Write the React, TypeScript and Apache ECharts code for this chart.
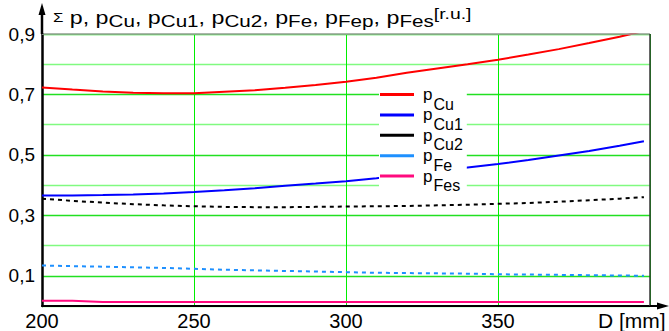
import React, { useEffect, useRef } from 'react';
import * as echarts from 'echarts';

// Rotor diameter D [mm]
const D = [200, 210, 220, 230, 240, 250, 260, 270, 280, 290, 300, 310, 320, 330, 340, 350, 360, 370, 380, 390, 398];
const pCu = [0.723, 0.716, 0.71, 0.706, 0.704, 0.704, 0.709, 0.714, 0.722, 0.731, 0.742, 0.755, 0.772, 0.786, 0.8, 0.815, 0.832, 0.85, 0.87, 0.891, 0.91];
const pCu1 = [0.366, 0.366, 0.367, 0.369, 0.372, 0.377, 0.383, 0.39, 0.398, 0.405, 0.413, 0.423, 0.434, 0.446, 0.458, 0.47, 0.483, 0.498, 0.513, 0.53, 0.545];
const pCu2 = [0.355, 0.348, 0.342, 0.337, 0.333, 0.33, 0.328, 0.327, 0.327, 0.328, 0.329, 0.33, 0.331, 0.333, 0.335, 0.338, 0.341, 0.345, 0.35, 0.355, 0.36];
const pFe = [0.134, 0.132, 0.13, 0.128, 0.126, 0.123, 0.12, 0.118, 0.116, 0.114, 0.112, 0.11, 0.109, 0.108, 0.107, 0.105, 0.104, 0.103, 0.102, 0.101, 0.1];
const pFes = [0.017, 0.017, 0.013, 0.013, 0.013, 0.013, 0.013, 0.013, 0.013, 0.013, 0.013, 0.013, 0.013, 0.013, 0.013, 0.013, 0.013, 0.013, 0.013, 0.013, 0.013];

const xTickLabels = ['200', '250', '300', '350'];
const yTickLabels = ['0,1', '0,3', '0,5', '0,7', '0,9'];

const seriesNames = ['pCu', 'pCu1', 'pCu2', 'pFe', 'pFes'];
const seriesSubs = ['Cu', 'Cu1', 'Cu2', 'Fe', 'Fes'];
const seriesColors = ['#ff0000', '#0000ff', '#000000', '#1e90ff', '#ff0a7e'];
const seriesDashed = [false, false, true, true, false];
const seriesValues = [pCu, pCu1, pCu2, pFe, pFes];

const titleSubs = ['Cu', 'Cu1', 'Cu2', 'Fe', 'Fep', 'Fes'];
const titleUnit = '[r.u.]';

const FONT = 'Liberation Sans, Arial, sans-serif';

export default function App() {
  const ref = useRef<HTMLDivElement>(null);
  useEffect(() => {
    if (!ref.current) return;
    const chart = echarts.init(ref.current, null, { renderer: 'svg' });
    const option: any = {
      animation: false,
      backgroundColor: '#ffffff',
      textStyle: { fontFamily: FONT },
      legend: {
        orient: 'vertical',
        left: 379,
        top: 86,
        padding: [0, 4, 4, 1],
        backgroundColor: '#ffffff',
        itemGap: -5.6,
        itemWidth: 34,
        itemHeight: 3,
        icon: 'rect',
        data: seriesNames,
        formatter: (name: string) => {
          const i = seriesNames.indexOf(name);
          return '{p|p}{s|' + seriesSubs[i] + '}';
        },
        textStyle: {
          color: '#000',
          fontFamily: FONT,
          rich: {
            p: { fontSize: 17, lineHeight: 17, verticalAlign: 'top', padding: [0, 1, 0, 4], color: '#000', fontFamily: FONT },
            s: { fontSize: 16, lineHeight: 16, padding: [10, 0, 0, 0], verticalAlign: 'top', color: '#000', fontFamily: FONT },
          },
        },
      },
      grid: { left: 42, right: 19, top: 34, bottom: 23, containLabel: false },
      xAxis: {
        type: 'value',
        min: 200,
        max: 400,
        interval: 50,
        name: 'D [mm]',
        nameLocation: 'end',
        nameGap: -52,
        nameTextStyle: { fontSize: 21, color: '#000', align: 'left', verticalAlign: 'top', padding: [4, 0, 0, 0], fontFamily: FONT },
        axisLine: { show: true, onZero: false, lineStyle: { color: '#000', width: 2 } },
        axisTick: { show: false },
        axisLabel: {
          fontSize: 20,
          color: '#000',
          margin: 5,
          fontFamily: FONT,
          formatter: (v: number) => {
            const idx = Math.round((v - 200) / 50);
            return idx < xTickLabels.length ? xTickLabels[idx] : '';
          },
        },
        splitLine: { show: true, lineStyle: { color: '#00ee00', width: 1 } },
      },
      yAxis: {
        type: 'value',
        min: 0,
        max: 0.9,
        interval: 0.1,
        axisLine: { show: true, onZero: false, lineStyle: { color: '#000', width: 2.5 } },
        axisTick: { show: false },
        axisLabel: {
          fontSize: 19,
          color: '#000',
          margin: 7,
          fontFamily: FONT,
          formatter: (v: number) => {
            const k = Math.round(v * 10);
            if (k % 2 === 1) return yTickLabels[(k - 1) / 2];
            return '';
          },
        },
        splitLine: { show: true, lineStyle: { color: ['#80fa80', '#22e022'], width: 1.3 } },
      },
      series: seriesNames.map((name, i) => ({
        name,
        type: 'line',
        symbol: 'none',
        clip: true,
        data: D.map((d, j) => [d, seriesValues[i][j]]),
        lineStyle: {
          color: seriesColors[i],
          width: 2,
          type: seriesDashed[i] ? [4, 4] : 'solid',
        },
        itemStyle: { color: seriesColors[i] },
        z: 3,
      })),
    };
    chart.setOption(option);

    const tl = chart.convertToPixel({ gridIndex: 0 }, [200, 0.9]) as number[];
    const br = chart.convertToPixel({ gridIndex: 0 }, [400, 0]) as number[];
    const [x0, yTop] = tl;
    const [x1, yBot] = br;

    const titleText =
      '{sig|Σ}{p| p, p}' +
      titleSubs.map((s, i) => '{b|' + s + '}' + (i < titleSubs.length - 1 ? '{p|, p}' : '')).join('') +
      '{u|' + titleUnit + '}';

    chart.setOption({
      graphic: [
        {
          type: 'text',
          x: x0 + 11,
          y: 8,
          scaleX: 1.29,
          scaleY: 1,
          z: 6,
          style: {
            text: titleText,
            fill: '#000',
            font: '18px ' + FONT,
            verticalAlign: 'top',
            align: 'left',
            rich: {
              sig: { fontSize: 13, lineHeight: 13, padding: [3, 0, 0, 0], verticalAlign: 'top', fill: '#000', fontFamily: FONT },
              p: { fontSize: 18, lineHeight: 18, verticalAlign: 'top', fill: '#000', fontFamily: FONT },
              b: { fontSize: 16, lineHeight: 16, padding: [5, 0, 0, 0], verticalAlign: 'top', fill: '#000', fontFamily: FONT },
              u: { fontSize: 15, lineHeight: 15, padding: [-2, 0, 0, 0], verticalAlign: 'top', fill: '#000', fontFamily: FONT },
            },
          },
        },
        { type: 'line', shape: { x1: x0, y1: yTop, x2: x1, y2: yTop }, style: { stroke: '#a0a0a0', lineWidth: 1.5 }, z: 5 },
        { type: 'line', shape: { x1: x1, y1: yTop, x2: x1, y2: yBot }, style: { stroke: '#333', lineWidth: 1.5 }, z: 5 },
        { type: 'line', shape: { x1: x0, y1: yTop, x2: x0, y2: 10 }, style: { stroke: '#000', lineWidth: 2.5 }, z: 5 },
        { type: 'polygon', shape: { points: [[x0, 3], [x0 - 3.5, 15], [x0 + 3.5, 15]] }, style: { fill: '#000' }, z: 5 },
        { type: 'line', shape: { x1: x1, y1: yBot, x2: 660, y2: yBot }, style: { stroke: '#000', lineWidth: 2 }, z: 5 },
        { type: 'polygon', shape: { points: [[669, yBot], [657, yBot - 3.5], [657, yBot + 3.5]] }, style: { fill: '#000' }, z: 5 },
      ],
    });
    return () => chart.dispose();
  }, []);
  return <div ref={ref} style={{ width: 669, height: 331, position: 'fixed', left: 0, top: 0 }} />;
}
